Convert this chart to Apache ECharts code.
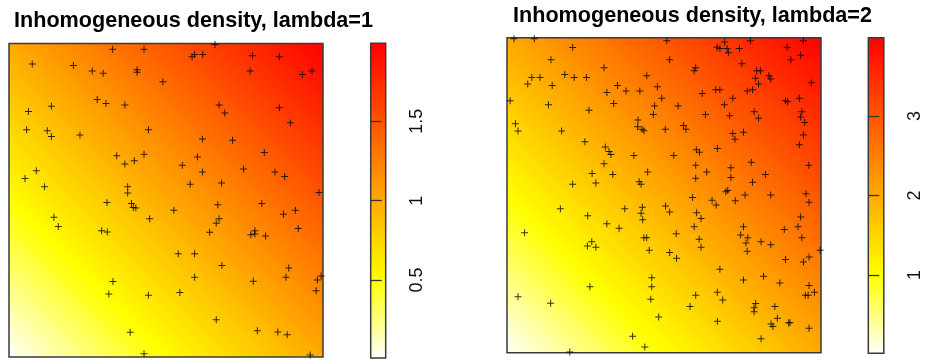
<!DOCTYPE html>
<html>
<head>
<meta charset="utf-8">
<script src="https://cdn.jsdelivr.net/npm/echarts@6/dist/echarts.min.js"></script>
<style>
html,body{margin:0;padding:0;background:#fff;}
#main{width:929px;height:360px;}
</style>
</head>
<body>
<div id="main"></div>
<script>
// ---- data ----
const titles = ['Inhomogeneous density, lambda=1', 'Inhomogeneous density, lambda=2'];
const lambdas = [1, 2];
// image value ranges (min, max) shown on the colour bars
const range1 = [0.0078, 1.9922];
const range2 = [0.0156, 3.9844];
const ticks1 = [0.5, 1, 1.5];
const ticks2 = [1, 2, 3];
// point pattern 1 (unit square coordinates)
const points1 = [
[0.330,0.982],[0.430,0.982],[0.656,0.997],[0.583,0.958],[0.591,0.965],[0.617,0.965],[0.775,0.961],[0.861,0.958],
[0.074,0.935],[0.205,0.930],[0.265,0.912],[0.300,0.905],[0.408,0.916],[0.408,0.908],[0.768,0.912],[0.934,0.901],
[0.965,0.912],[0.490,0.878],[0.281,0.821],[0.309,0.809],[0.369,0.804],[0.669,0.804],[0.687,0.778],[0.861,0.795],
[0.062,0.783],[0.135,0.800],[0.896,0.747],[0.056,0.725],[0.122,0.722],[0.135,0.703],[0.226,0.708],[0.444,0.725],
[0.616,0.695],[0.712,0.691],[0.343,0.642],[0.369,0.616],[0.399,0.626],[0.430,0.647],[0.600,0.638],[0.813,0.652],
[0.552,0.612],[0.616,0.590],[0.747,0.600],[0.847,0.590],[0.878,0.576],[0.087,0.594],[0.051,0.569],[0.113,0.543],
[0.378,0.543],[0.378,0.523],[0.577,0.551],[0.677,0.555],[0.987,0.525],
[0.312,0.493],[0.390,0.490],[0.396,0.477],[0.404,0.475],[0.143,0.446],[0.157,0.416],[0.295,0.403],[0.313,0.399],
[0.448,0.441],[0.525,0.468],[0.665,0.486],[0.805,0.490],[0.874,0.455],[0.912,0.468],[0.669,0.441],[0.660,0.427],
[0.639,0.398],[0.770,0.390],[0.783,0.403],[0.783,0.392],[0.817,0.386],[0.921,0.410],[0.539,0.329],[0.591,0.329],
[0.678,0.292],[0.891,0.284],[0.591,0.254],[0.882,0.254],[0.778,0.242],[0.982,0.246],[0.994,0.258],[0.978,0.211],
[0.331,0.241],[0.318,0.201],[0.444,0.197],[0.544,0.206],[0.660,0.119],[0.386,0.079],[0.791,0.084],[0.856,0.080],
[0.886,0.071],[0.430,0.010],[0.959,0.006]
];
// point pattern 2
const points2 = [
[0.022,0.997],[0.087,0.997],[0.209,0.969],[0.509,0.990],[0.669,0.970],[0.678,0.966],[0.693,0.986],[0.701,0.966],
[0.705,0.952],[0.740,0.966],[0.775,0.990],[0.892,0.970],[0.944,0.990],[0.935,0.944],[0.904,0.930],[0.140,0.930],
[0.518,0.930],[0.748,0.917],[0.309,0.905],[0.601,0.905],[0.596,0.895],[0.795,0.895],[0.807,0.895],[0.079,0.874],
[0.105,0.874],[0.184,0.883],[0.214,0.874],[0.253,0.874],[0.445,0.879],[0.791,0.871],[0.834,0.879],[0.840,0.869],
[0.969,0.857],[0.066,0.853],[0.144,0.848],[0.352,0.848],[0.479,0.844],[0.801,0.853],[0.318,0.826],[0.379,0.831],
[0.423,0.831],[0.622,0.823],[0.665,0.835],[0.678,0.835],[0.765,0.831],[0.782,0.835],[0.010,0.800],[0.493,0.808],
[0.719,0.808],[0.887,0.800],[0.894,0.797],[0.931,0.808],[0.132,0.787],[0.340,0.791],[0.470,0.783],[0.545,0.783],
[0.692,0.787],[0.261,0.770],[0.466,0.756],[0.632,0.756],[0.709,0.752],[0.787,0.765],[0.801,0.744],[0.939,0.765],
[0.935,0.748],[0.948,0.731],[0.417,0.739],[0.416,0.717],[0.430,0.709],[0.436,0.705],[0.027,0.727],[0.035,0.704],
[0.174,0.704],[0.504,0.709],[0.562,0.721],[0.570,0.709],[0.719,0.696],[0.726,0.678],[0.753,0.700],[0.944,0.691],
[0.931,0.660],[0.248,0.670],[0.313,0.653],[0.325,0.639],[0.331,0.629],[0.603,0.644],[0.613,0.636],[0.670,0.648],
[0.404,0.626],[0.531,0.626],[0.309,0.600],[0.601,0.595],[0.713,0.587],[0.778,0.605],[0.961,0.595],[0.271,0.569],
[0.337,0.566],[0.448,0.574],[0.636,0.574],[0.823,0.566],[0.601,0.554],[0.713,0.556],[0.209,0.535],[0.283,0.539],
[0.421,0.543],[0.427,0.535],[0.782,0.541],[0.697,0.511],[0.703,0.515],[0.758,0.501],[0.840,0.501],[0.952,0.505],
[0.591,0.493],[0.653,0.484],[0.666,0.469],[0.727,0.482],[0.962,0.478],[0.170,0.457],[0.257,0.435],[0.375,0.457],
[0.431,0.462],[0.427,0.443],[0.432,0.422],[0.505,0.466],[0.518,0.447],[0.604,0.444],[0.618,0.426],[0.935,0.431],
[0.318,0.409],[0.357,0.395],[0.596,0.400],[0.753,0.400],[0.883,0.391],[0.927,0.400],[0.056,0.381],[0.539,0.378],
[0.744,0.374],[0.767,0.365],[0.939,0.365],[0.436,0.365],[0.445,0.365],[0.270,0.352],[0.256,0.339],[0.283,0.335],
[0.612,0.360],[0.618,0.335],[0.761,0.348],[0.809,0.352],[0.840,0.343],[0.765,0.322],[0.453,0.325],[0.518,0.318],
[0.540,0.300],[0.997,0.325],[0.887,0.296],[0.944,0.288],[0.962,0.304],[0.678,0.265],[0.461,0.238],[0.461,0.209],
[0.458,0.170],[0.264,0.209],[0.753,0.231],[0.817,0.243],[0.869,0.221],[0.962,0.213],[0.950,0.182],[0.959,0.182],
[0.979,0.192],[0.601,0.182],[0.670,0.192],[0.687,0.167],[0.583,0.147],[0.787,0.143],[0.792,0.156],[0.787,0.130],
[0.853,0.147],[0.861,0.109],[0.841,0.091],[0.847,0.083],[0.897,0.095],[0.901,0.095],[0.962,0.078],[0.670,0.100],
[0.483,0.113],[0.809,0.044],[0.400,0.052],[0.439,0.018],[0.200,0.002],[0.035,0.178],[0.139,0.157]
];

// ---- styling helpers ----
// reversed heat.colors: near-white -> yellow (1/4) -> red
function heatStops() {
  return [
    { offset: 0, color: 'rgb(255,255,251)' },
    { offset: 0.25, color: 'rgb(255,255,0)' },
    { offset: 1, color: 'rgb(255,0,0)' }
  ];
}
const diagGradient = { type: 'linear', x: 0, y: 1, x2: 1, y2: 0, colorStops: heatStops() };
const vertGradient = { type: 'linear', x: 0, y: 1, x2: 0, y2: 0, colorStops: heatStops() };
const FONT = '"Liberation Sans", Arial, sans-serif';
const plusPath = 'path://M3,0h1v3h3v1h-3v3h-1v-3h-3v-1h3z';

const panels = [
  { plot: { left: 9, top: 43.5, width: 314, height: 313.5 }, bar: { left: 370.7, top: 43.3, width: 15, height: 314.7 }, title: { left: 14, top: 10 }, range: range1, ticks: ticks1, pts: points1 },
  { plot: { left: 507, top: 37.7, width: 314, height: 315 }, bar: { left: 868.3, top: 37.7, width: 15.5, height: 315.6 }, title: { left: 513, top: 5.5 }, range: range2, ticks: ticks2, pts: points2 }
];

const grid = [], xAxis = [], yAxis = [], series = [], title = [];
panels.forEach((p, i) => {
  title.push({ text: titles[i], left: p.title.left, top: p.title.top, padding: 0,
    textStyle: { fontFamily: FONT, fontSize: 21.6, fontWeight: 'bold', color: '#000' } });
  // plot grid
  grid.push(Object.assign({ show: true, backgroundColor: diagGradient, borderColor: '#3a3a3a', borderWidth: 1.5 }, p.plot));
  xAxis.push({ type: 'value', gridIndex: 2 * i, min: 0, max: 1, show: false });
  yAxis.push({ type: 'value', gridIndex: 2 * i, min: 0, max: 1, show: false });
  series.push({ type: 'scatter', xAxisIndex: 2 * i, yAxisIndex: 2 * i, data: p.pts,
    symbol: plusPath, symbolSize: 7, itemStyle: { color: '#000' }, silent: true, clip: false });
  // colour bar grid
  grid.push(Object.assign({ show: true, backgroundColor: vertGradient, borderColor: '#3a3a3a', borderWidth: 1.5 }, p.bar));
  xAxis.push({ type: 'value', gridIndex: 2 * i + 1, min: 0, max: 1, show: false });
  yAxis.push({ type: 'value', gridIndex: 2 * i + 1, position: 'right', min: p.range[0], max: p.range[1],
    splitLine: { show: false }, axisLine: { show: false },
    axisTick: { show: true, length: 11, customValues: p.ticks, lineStyle: { color: '#333', width: 1.3 } },
    axisLabel: { show: true, customValues: p.ticks, rotate: 90, margin: 22, fontFamily: FONT, fontSize: 18, color: '#111' } });
  series.push({ type: 'scatter', xAxisIndex: 2 * i + 1, yAxisIndex: 2 * i + 1, data: [], silent: true });
});

const chart = echarts.init(document.getElementById('main'), null, { renderer: 'canvas', width: 929, height: 360 });
chart.setOption({ animation: false, backgroundColor: '#fff', title, grid, xAxis, yAxis, series });
</script>
</body>
</html>
